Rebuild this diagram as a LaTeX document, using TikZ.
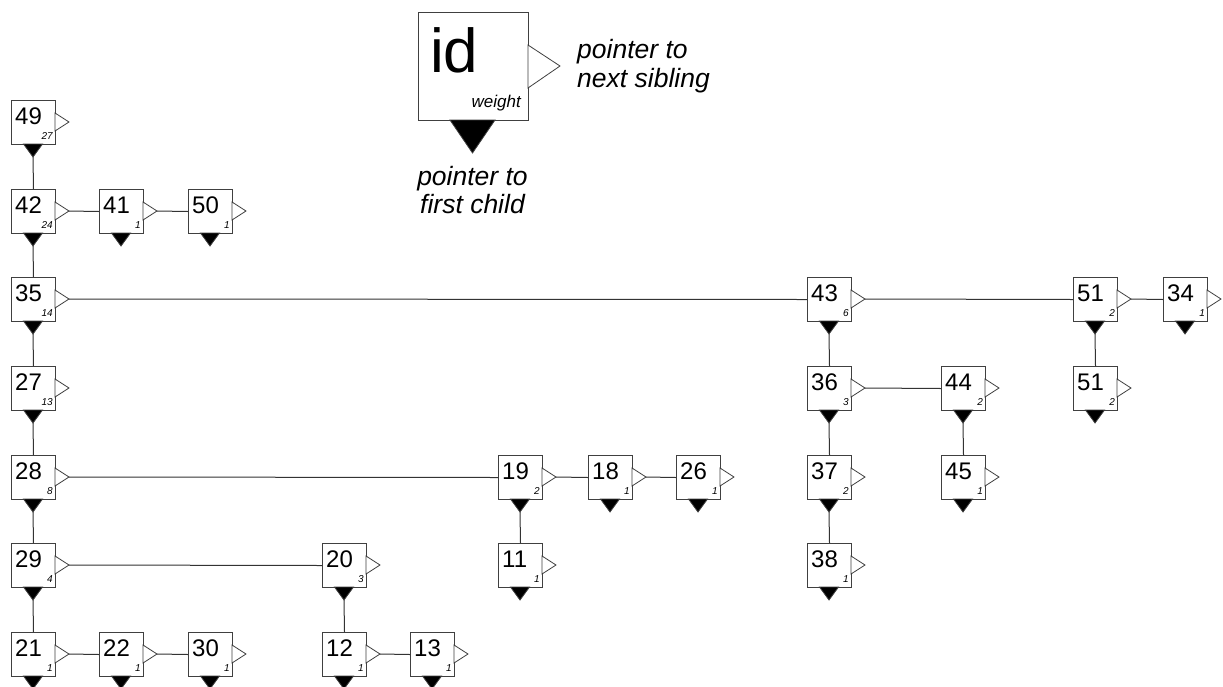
\documentclass[tikz,border=0pt]{standalone}
\usepackage{fontspec}
\setmainfont{Liberation Sans}
\begin{document}
\begin{tikzpicture}[x=1pt,y=-1pt,
  box/.style={draw=black!75, line width=1pt, fill=white, minimum width=44pt,
    minimum height=44pt, inner sep=0pt, anchor=north west},
  idtxt/.style={inner sep=0pt, anchor=base west, font=\fontsize{24}{24}\selectfont},
  wtxt/.style={inner sep=0pt, anchor=base east, font=\fontsize{10}{10}\selectfont\itshape},
  child/.style={draw=black!75, fill=black, line width=0.8pt, line join=miter},
  sibling/.style={draw=black!75, fill=white, line width=0.8pt, line join=miter},
  link/.style={draw=black!80, line width=1pt},
  lbl/.style={inner sep=0pt, font=\fontsize{26.5}{26.5}\selectfont\itshape}]
\useasboundingbox (0,0) rectangle (1223,686);
\clip (0,0) rectangle (1223,686);

% one list cell: name, left, top, id, weight
\newcommand\cell[5]{%
  \node[box] (#1) at (#2,#3) {};
  \node[idtxt] (#1-id) at (#2+4,#3+24) {#4};
  \node[wtxt] (#1-w) at (#2+42,#3+39) {#5};
  \draw[child] (#2+12.5,#3+44) -- (#2+31.5,#3+44) -- (#2+22,#3+57) -- cycle;
  \draw[sibling] (#2+44,#3+13) -- (#2+58,#3+22) -- (#2+44,#3+31) -- cycle;
  \coordinate (#1-d) at (#2+22,#3+57);
  \coordinate (#1-r) at (#2+58,#3+22);
}

% legend cell
\node[box, minimum width=110pt, minimum height=108pt] (key) at (418,12) {};
\node[inner sep=0pt, anchor=base west, font=\fontsize{62}{62}\selectfont] (key-id) at (430,72) {id};
\node[inner sep=0pt, anchor=base east, font=\fontsize{17}{17}\selectfont\itshape] (key-w) at (521,107) {weight};
\draw[child] (450,120) -- (495,120) -- (472.5,153) -- cycle;
\draw[sibling] (528,45) -- (560,66) -- (528,88) -- cycle;
\node[lbl, anchor=base west] (ns1) at (577,58) {pointer to};
\node[lbl, anchor=base west] (ns2) at (577,87) {next sibling};
\node[lbl, anchor=base] (fc1) at (472.5,185) {pointer to};
\node[lbl, anchor=base] (fc2) at (472.5,213) {first child};

% cells, row by row
\cell{n49}{11}{100}{49}{27}
\cell{n42}{11}{189}{42}{24}
\cell{n41}{99}{189}{41}{1}
\cell{n50}{188}{189}{50}{1}
\cell{n35}{11}{277}{35}{14}
\cell{n43}{807}{277}{43}{6}
\cell{n51a}{1073}{277}{51}{2}
\cell{n34}{1163}{277}{34}{1}
\cell{n27}{11}{366}{27}{13}
\cell{n36}{807}{366}{36}{3}
\cell{n44}{941}{366}{44}{2}
\cell{n51b}{1073}{366}{51}{2}
\cell{n28}{11}{455}{28}{8}
\cell{n19}{498}{455}{19}{2}
\cell{n18}{588}{455}{18}{1}
\cell{n26}{676}{455}{26}{1}
\cell{n37}{807}{455}{37}{2}
\cell{n45}{941}{455}{45}{1}
\cell{n29}{11}{543}{29}{4}
\cell{n20}{322}{543}{20}{3}
\cell{n11}{498}{543}{11}{1}
\cell{n38}{807}{543}{38}{1}
\cell{n21}{11}{632}{21}{1}
\cell{n22}{99}{632}{22}{1}
\cell{n30}{188}{632}{30}{1}
\cell{n12}{322}{632}{12}{1}
\cell{n13}{410}{632}{13}{1}

% first-child links
\foreach \p/\c in {n49/n42, n42/n35, n35/n27, n27/n28, n28/n29, n29/n21,
                   n43/n36, n36/n37, n37/n38, n51a/n51b, n44/n45, n19/n11, n20/n12}
  \draw[link] (\p-d) -- (\c.north);

% next-sibling links
\foreach \a/\b in {n42/n41, n41/n50, n35/n43, n43/n51a, n51a/n34, n36/n44,
                   n28/n19, n19/n18, n18/n26, n29/n20, n21/n22, n22/n30, n12/n13}
  \draw[link] (\a-r) -- (\b.west);
\end{tikzpicture}
\end{document}
